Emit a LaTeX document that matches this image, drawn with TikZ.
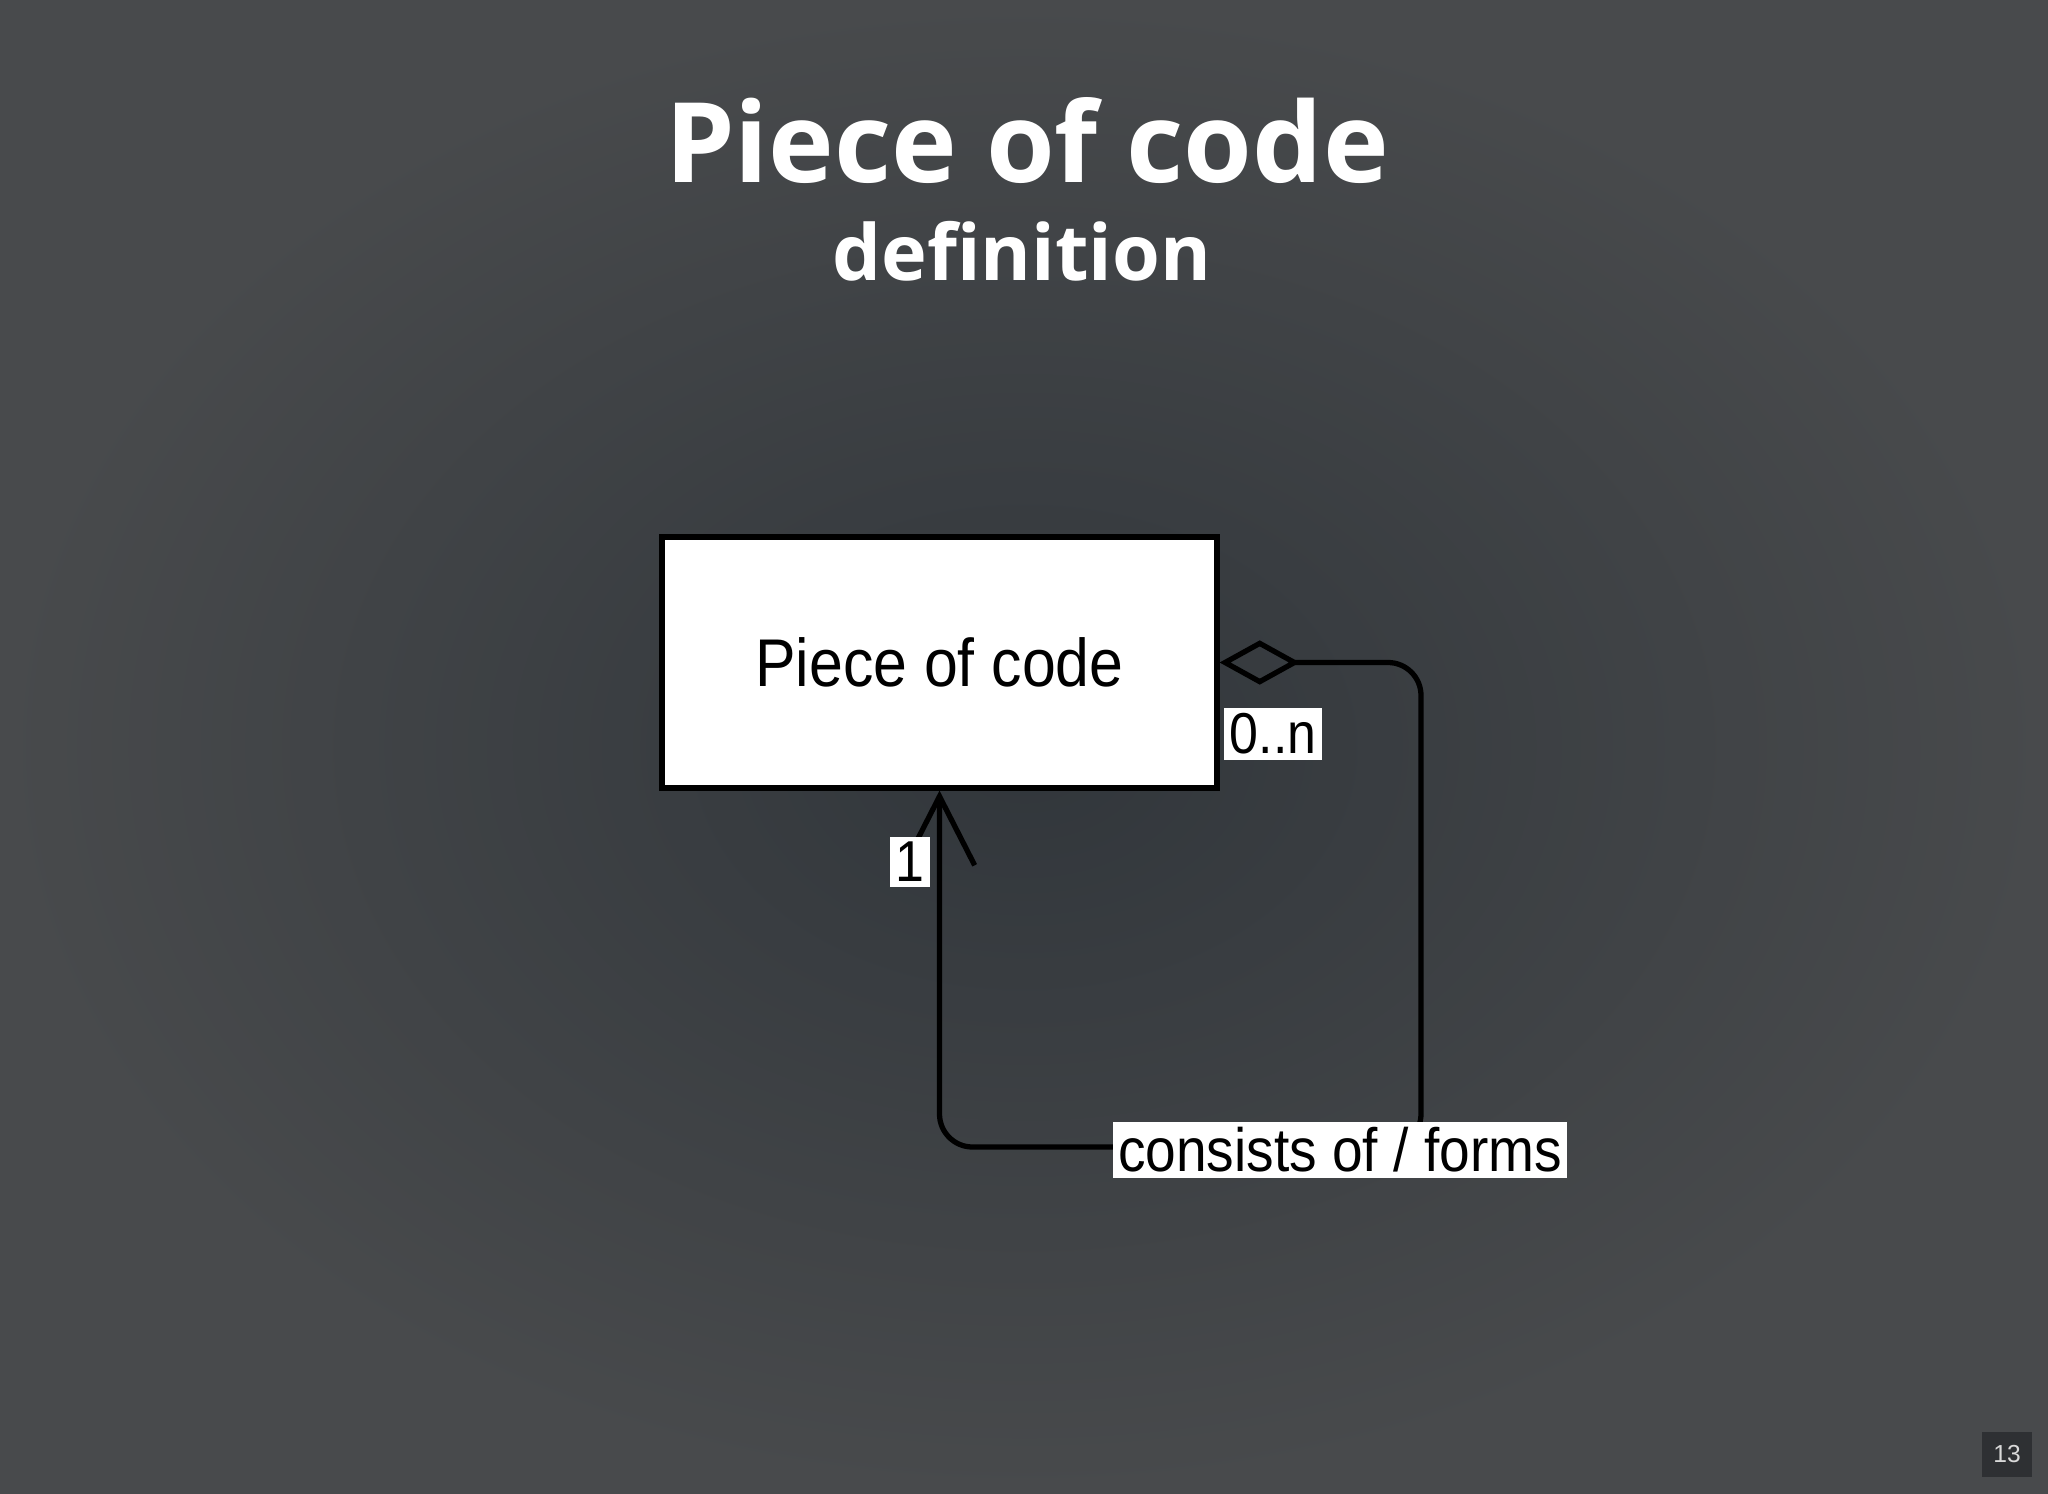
\documentclass[tikz,border=0pt]{standalone}
\usepackage{fontspec}
\setmainfont{Liberation Sans}
\newfontfamily\titlefont{Open Sans}
\newfontfamily\umlfont[FakeStretch=0.9]{Liberation Sans}
\usepackage{tikz}
\usetikzlibrary{arrows.meta}
\definecolor{slate}{RGB}{49,54,59}
\definecolor{slateedge}{RGB}{72,74,76}
\definecolor{pagebox}{RGB}{46,48,51}
\tikzset{
  classbox/.style={draw=black, fill=white, line width=1.7pt, minimum width=5.54cm, minimum height=2.5cm, font=\umlfont\fontsize{19.2}{23}\selectfont},
  assoc/.style={black, line width=1.5pt, rounded corners=0.33cm},
  multlabel/.style={fill=white, text=black, inner sep=1.5pt, font=\umlfont\fontsize{16.4}{19}\selectfont},
  rolelabel/.style={fill=white, text=black, inner sep=1.5pt, font=\umlfont\fontsize{17.4}{20}\selectfont},
}

\begin{document}
\begin{tikzpicture}[x=0.01cm,y=-0.01cm]
       \shade[inner color=slate, outer color=slateedge] (0,0) rectangle (2048,1494);
       \node[anchor=base, text=white, font=\titlefont\bfseries\fontsize{31.6}{38}\selectfont] (title) at (1027,183) {Piece of code};
       \node[anchor=base, text=white, font=\titlefont\bfseries\fontsize{22}{27}\selectfont] (subtitle) at (1022,281) {definition};
       \node[classbox] (piece) at (939.5,662.5) {Piece of code};
       \coordinate (loopcorner) at (1421,1147);
       \draw[assoc, {Diamond[open, length=22.8pt, width=12.6pt]}-{Straight Barb[length=19.6pt, width=20pt]}] (piece.east) -| (loopcorner) -| (piece.south);
       \node[multlabel] (many) at (1273,734) {0..n};
       \node[multlabel] (one) at (910,862) {1};
       \node[rolelabel] (role) at (1340,1150) {consists of / forms};
       \node[fill=pagebox, text=white!85!black, font=\fontsize{7}{8}\selectfont, minimum width=0.5cm, minimum height=0.45cm] (pagenum) at (2007,1454) {13};
      \end{tikzpicture}
\end{document}
